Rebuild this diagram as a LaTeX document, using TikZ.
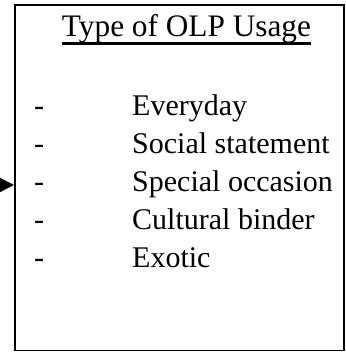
\documentclass[tikz,border=0pt]{standalone}
\usepackage{fontspec}
\setmainfont{Liberation Serif}
\usetikzlibrary{arrows.meta}
\tikzset{
  txt/.style={inner sep=0pt, font=\fontsize{30}{36}\selectfont, anchor=base west},
  headtxt/.style={inner sep=0pt, font=\fontsize{31.3}{37}\selectfont, anchor=base},
  dashmark/.style={txt},
  frame/.style={draw, line width=1.6pt},
}
\begin{document}
\begin{tikzpicture}[x=1pt, y=-1pt]
  \clip (0,0) rectangle (345,353);
  \useasboundingbox (0,0) rectangle (345,353);

  % outer frame
  \node[frame, minimum width=329pt, minimum height=345pt, inner sep=0pt, anchor=north west] (box) at (14,4.5) {};

  % heading with rule beneath
  \node[headtxt] (title) at (186.5,37) {Type of OLP Usage};
  \draw[line width=2.2pt] ([yshift=-6.5pt]title.base west) -- ([yshift=-6.5pt]title.base east);

  % list entries
  \foreach \name/\label [count=\i] in {e1/Everyday, e2/Social statement, e3/Special occasion, e4/Cultural binder, e5/Exotic} {
    \pgfmathsetmacro\yy{115 + (\i-1)*38.2}
    \node[dashmark] (d\i) at (34,\yy) {-};
    \node[txt] (\name) at (132,\yy) {\label};
  }

  % incoming arrow from the left
  \coordinate (src) at (-30,185);
  \draw[line width=1.5pt, -{Triangle[length=14pt, width=14pt]}] (src) -- (src -| box.west);
\end{tikzpicture}
\end{document}
